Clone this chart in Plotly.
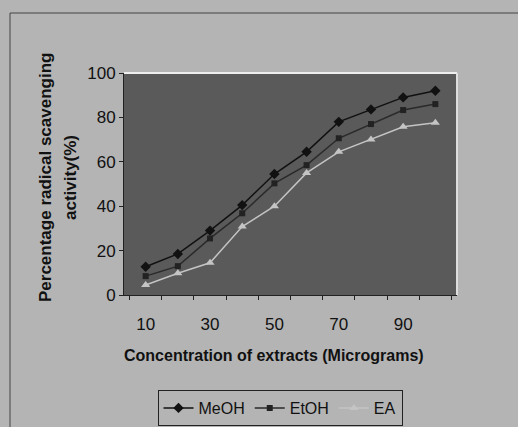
import plotly.graph_objects as go

concentrations = ["10", "20", "30", "40", "50", "60", "70", "80", "90", "100"]
tick_labels = ["10", "", "30", "", "50", "", "70", "", "90", ""]
meoh = [12.7, 18.5, 29, 40.5, 54.5, 64.5, 78, 83.6, 89, 92]
etoh = [8.5, 13, 25.5, 36.8, 50.3, 58.5, 70.6, 77, 83.3, 86]
ea = [4.5, 9.8, 14.5, 30.8, 40, 55, 64.5, 70, 75.8, 77.6]

W, H = 518, 427
L, R, T, B = 124, 61, 73, 132
pw, ph = W - L - R, H - T - B

fig = go.Figure()
fig.add_trace(go.Scatter(x=concentrations, y=meoh, name="MeOH", mode="lines+markers",
                         line=dict(color="#111111", width=1.5),
                         marker=dict(symbol="diamond", size=8, color="#111111")))
fig.add_trace(go.Scatter(x=concentrations, y=etoh, name="EtOH", mode="lines+markers",
                         line=dict(color="#2a2a2a", width=1.5),
                         marker=dict(symbol="square", size=6, color="#222222")))
fig.add_trace(go.Scatter(x=concentrations, y=ea, name="EA", mode="lines+markers",
                         line=dict(color="#c4c4c4", width=1.5),
                         marker=dict(symbol="triangle-up", size=8, color="#c4c4c4")))

font = "Liberation Sans, Arial, sans-serif"
fig.update_layout(
    width=W, height=H,
    margin=dict(l=L, r=R, t=T, b=B, autoexpand=False),
    paper_bgcolor="#b4b4b4",
    plot_bgcolor="#5a5a5a",
    font=dict(family=font, size=15, color="#111111"),
    showlegend=True,
    legend=dict(orientation="h", x=(280 - L) / pw, xanchor="center",
                y=(295 - 390) / ph, yanchor="top",
                bgcolor="rgba(0,0,0,0)", bordercolor="#222222", borderwidth=1,
                font=dict(size=16), itemwidth=30),
    xaxis=dict(type="category", tickmode="array", tickvals=concentrations, ticktext=tick_labels,
               tickson="boundaries", ticks="outside", ticklen=4, tickcolor="#222222",
               showline=True, linecolor="#222222", linewidth=1, showgrid=False,
               tickfont=dict(size=17), zeroline=False, ticklabelstandoff=14),
    yaxis=dict(range=[0, 100], tickvals=[0, 20, 40, 60, 80, 100], ticks="outside",
               ticklen=4, tickcolor="#222222", showline=True, linecolor="#222222",
               linewidth=1, showgrid=False, zeroline=False, tickfont=dict(size=17)),
)

# axis titles as annotations
fig.add_annotation(text="<b>Concentration of extracts (Micrograms)</b>", xref="paper", yref="paper",
                   x=(274 - L) / pw, y=(295 - 355) / ph, xanchor="center", yanchor="middle",
                   showarrow=False, font=dict(size=16, family=font, color="#111111"))
fig.add_annotation(text="<b>Percentage radical scavenging</b>", xref="paper", yref="paper",
                   x=(45 - L) / pw, y=(295 - 178) / ph, xanchor="center", yanchor="middle",
                   textangle=-90, showarrow=False,
                   font=dict(size=17, family=font, color="#111111"))
fig.add_annotation(text="<b>activity(%)</b>", xref="paper", yref="paper",
                   x=(70 - L) / pw, y=(295 - 178) / ph, xanchor="center", yanchor="middle",
                   textangle=-90, showarrow=False,
                   font=dict(size=17, family=font, color="#111111"))

# plot area highlight (top and right edges)
fig.add_shape(type="line", xref="paper", yref="paper", x0=0, x1=1, y0=1, y1=1,
              line=dict(color="#eeeeee", width=2))
fig.add_shape(type="line", xref="paper", yref="paper", x0=1, x1=1, y0=0, y1=1,
              line=dict(color="#dddddd", width=2))
# outer chart frame
fig.add_shape(type="line", xref="paper", yref="paper", x0=(10 - L) / pw, x1=(10 - L) / pw,
              y0=(295 - 430) / ph, y1=(295 - 13) / ph, line=dict(color="#444444", width=1))
fig.add_shape(type="line", xref="paper", yref="paper", x0=(10 - L) / pw, x1=(520 - L) / pw,
              y0=(295 - 13) / ph, y1=(295 - 13) / ph, line=dict(color="#444444", width=1))

fig.write_html("out.html")
